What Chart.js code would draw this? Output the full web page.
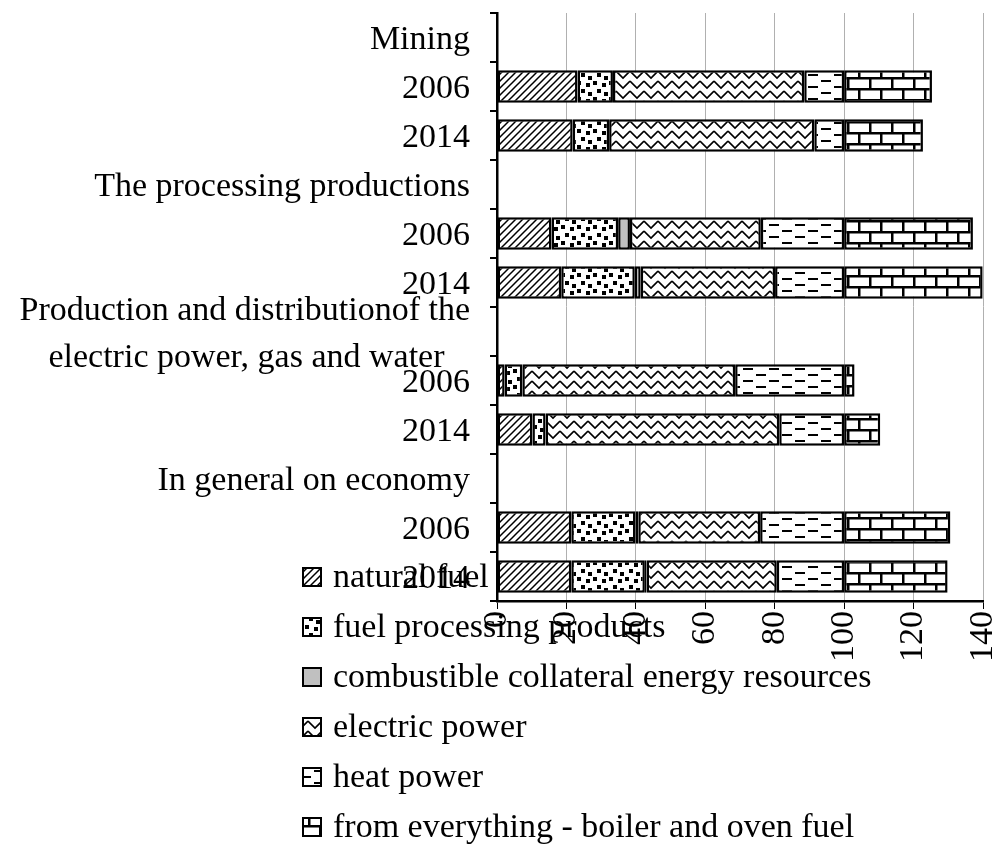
<!DOCTYPE html>
<html>
<head>
<meta charset="utf-8">
<script src="https://cdn.jsdelivr.net/npm/chart.js@4/dist/chart.umd.min.js"></script>
<style>
  html, body { margin: 0; padding: 0; background: #fff; }
  #wrap { width: 993px; height: 846px; }
</style>
</head>
<body>
<div id="wrap"><canvas id="my-chart" width="993" height="846"></canvas></div>
<script>
const categories = [
  'Mining', '2006', '2014',
  'The processing productions', '2006', '2014',
  ['Production and distributionof the', 'electric power, gas and water   '], '2006', '2014',
  'In general on economy', '2006', '2014'
];

const naturalFuel   = [null, 23.2, 21.8, null, 15.7, 18.5, null, 2.2, 10.2, null, 21.4, 21.4];
const fuelProducts  = [null, 10.2, 10.5, null, 19.2, 21.2, null, 5.1, 3.8, null, 18.5, 21.2];
const collateral    = [null, 0, 0, null, 3.4, 1.7, null, 0, 0, null, 0.8, 0.5];
const electricPower = [null, 55.1, 59.1, null, 37.7, 38.7, null, 61.3, 67.3, null, 35.1, 37.5];
const heatPower     = [null, 11.5, 8.6, null, 24.0, 19.9, null, 31.4, 18.7, null, 24.2, 19.4];
const boilerFuel    = [null, 25.3, 22.7, null, 37.1, 39.9, null, 3.0, 10.4, null, 30.6, 29.8];

const xTicks = [0, 20, 40, 60, 80, 100, 120, 140];

const FONT = '"Liberation Serif", "Times New Roman", serif';

// small tiles turned into repeating fills
const makePattern = (w, h, draw) => {
  const c = document.createElement('canvas');
  c.width = w;
  c.height = h;
  const g = c.getContext('2d');
  g.fillStyle = '#fff';
  g.fillRect(0, 0, w, h);
  g.fillStyle = '#000';
  g.strokeStyle = '#000';
  draw(g);
  return document.getElementById('my-chart').getContext('2d').createPattern(c, 'repeat');
};

const hatch = makePattern(7, 7, g => {
  g.lineWidth = 1.5;
  g.beginPath();
  g.moveTo(-1, 8); g.lineTo(8, -1);
  g.moveTo(-1, 1); g.lineTo(1, -1);
  g.moveTo(6, 8); g.lineTo(8, 6);
  g.stroke();
});

const dots = makePattern(16, 16, g => {
  g.fillRect(1, 1, 4, 4);
  g.fillRect(10, 3, 4, 4);
  g.fillRect(5, 9, 4, 4);
  g.fillRect(12, 12, 4, 4);
});

const zigzag = makePattern(14, 10, g => {
  g.lineWidth = 1.6;
  g.beginPath();
  g.moveTo(0, 1); g.lineTo(7, 8); g.lineTo(14, 1);
  g.stroke();
});

const dashes = makePattern(26, 12, g => {
  g.fillRect(2, 2, 10, 2);
  g.fillRect(15, 8, 10, 2);
});

const bricks = makePattern(22, 22, g => {
  g.fillRect(0, 0, 22, 2.5);
  g.fillRect(0, 11, 22, 2.5);
  g.fillRect(0, 0, 2.5, 11);
  g.fillRect(11, 11, 2.5, 11);
});

const series = [
  { label: 'natural fuel', data: naturalFuel, fill: hatch },
  { label: 'fuel processing products', data: fuelProducts, fill: dots },
  { label: 'combustible collateral energy resources', data: collateral, fill: '#c0c0c0' },
  { label: 'electric power', data: electricPower, fill: zigzag },
  { label: 'heat power', data: heatPower, fill: dashes },
  { label: 'from everything - boiler and oven fuel', data: boilerFuel, fill: bricks }
];

// legend list drawn in the lower left, over the axis area
const sideLegend = {
  id: 'sideLegend',
  afterDraw(chart) {
    const ctx = chart.ctx;
    ctx.save();
    ctx.font = '34px ' + FONT;
    ctx.textBaseline = 'middle';
    chart.data.datasets.forEach((ds, i) => {
      const y = 577 + i * 50;
      ctx.fillStyle = ds.backgroundColor;
      ctx.fillRect(303, y - 9, 18, 18);
      ctx.strokeStyle = '#000';
      ctx.lineWidth = 2;
      ctx.strokeRect(303, y - 9, 18, 18);
      ctx.fillStyle = '#000';
      ctx.fillText(ds.label, 333, y + 1);
    });
    ctx.restore();
  }
};

const noEdgePadding = axis => {
  axis.paddingTop = 0;
  axis.paddingBottom = 0;
  axis.paddingLeft = 0;
  axis.paddingRight = 0;
};

const ctx = document.getElementById('my-chart');
new Chart(ctx, {
  type: 'bar',
  data: {
    labels: categories,
    datasets: series.map(s => ({
      label: s.label,
      data: s.data,
      backgroundColor: s.fill,
      borderColor: '#000',
      borderWidth: 2.5,
      borderSkipped: false,
      barPercentage: 0.66,
      categoryPercentage: 1
    }))
  },
  options: {
    indexAxis: 'y',
    responsive: false,
    animation: false,
    layout: { padding: { top: 13, right: 10, left: 0, bottom: 0 } },
    plugins: {
      legend: { display: false },
      tooltip: { enabled: false }
    },
    scales: {
      x: {
        stacked: true,
        min: 0,
        max: 140,
        afterBuildTicks: axis => { axis.ticks = xTicks.map(v => ({ value: v })); },
        afterFit: axis => { axis.height = 245; noEdgePadding(axis); },
        grid: { color: '#b0b0b0', lineWidth: 1, tickColor: '#000', tickLength: 8 },
        border: { color: '#000', width: 2.5 },
        ticks: {
          color: '#000',
          font: { family: FONT, size: 34 },
          minRotation: 90,
          maxRotation: 90,
          padding: 2
        }
      },
      y: {
        stacked: true,
        afterFit: axis => { axis.width = 497; noEdgePadding(axis); },
        grid: { drawOnChartArea: false, tickColor: '#000', tickLength: 7, lineWidth: 2 },
        border: { color: '#000', width: 2.5 },
        ticks: {
          color: '#000',
          font: { family: FONT, size: 34, lineHeight: 1.4 },
          padding: 20,
          labelOffset: 3,
          autoSkip: false
        }
      }
    }
  },
  plugins: [sideLegend]
});
</script>
</body>
</html>
